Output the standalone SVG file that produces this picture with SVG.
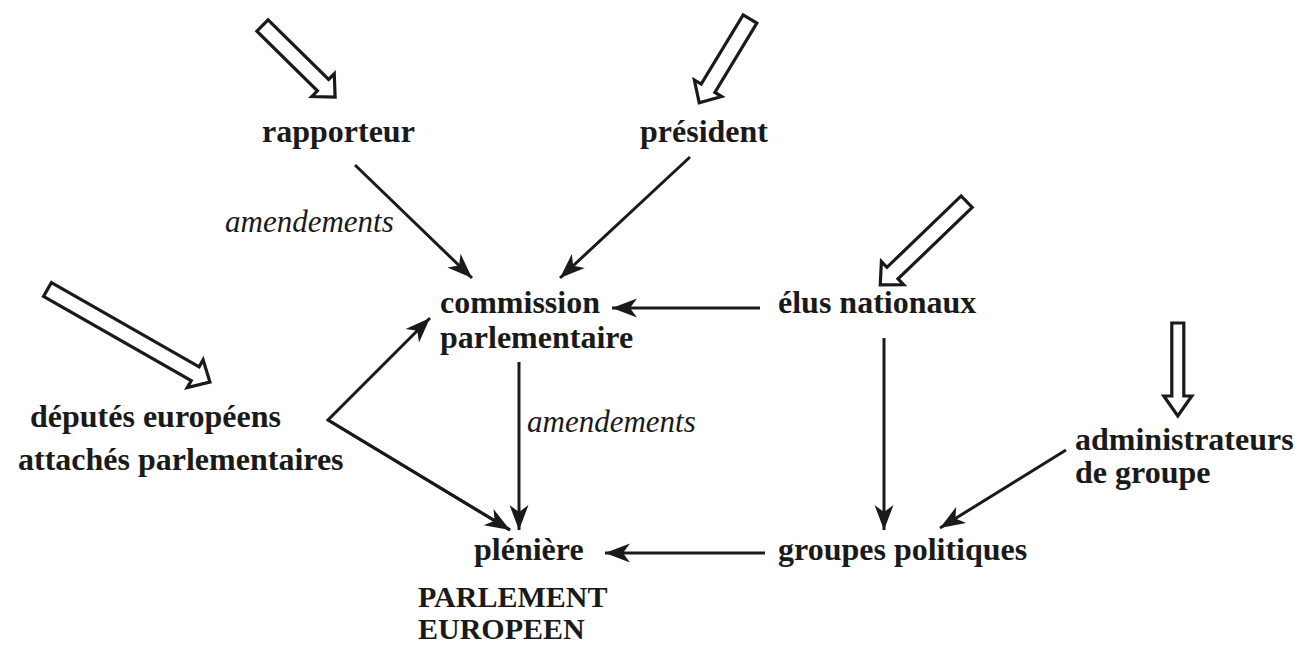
<svg xmlns="http://www.w3.org/2000/svg" width="1300" height="645" viewBox="0 0 1300 645">
<style>
  .t { font-family: "Liberation Serif", "Times New Roman", serif; font-weight: bold; font-size: 32px; fill: #1a1a1a; }
  .p { font-family: "Liberation Serif", "Times New Roman", serif; font-weight: bold; font-size: 30px; fill: #1a1a1a; }
  .i { font-family: "Liberation Serif", "Times New Roman", serif; font-style: italic; font-size: 31px; fill: #1a1a1a; }
  .c { stroke: #1a1a1a; stroke-width: 3; fill: none; marker-end: url(#ah); }
  .h { fill: #ffffff; stroke: #1a1a1a; stroke-width: 3.2; stroke-linejoin: miter; }
</style>
<defs>
  <marker id="ah" markerUnits="userSpaceOnUse" viewBox="-26 -11 28 22" refX="0" refY="0" markerWidth="28" markerHeight="22" orient="auto">
    <path d="M0,0 L-25,-9.5 L-18,0 L-25,9.5 Z" fill="#1a1a1a"/>
  </marker>
</defs>
<rect width="1300" height="645" fill="#ffffff"/>

<g id="input-arrows">
  <polygon class="h" transform="translate(262.5,25.5) rotate(44.6)" points="0,-8 85,-8 85,-16 102,0 85,16 85,8 0,8"/>
  <polygon class="h" transform="translate(750,19) rotate(121.2)" points="0,-8 81,-8 81,-16 98,0 81,16 81,8 0,8"/>
  <polygon class="h" transform="translate(966.7,201.7) rotate(136.1)" points="0,-8 103,-8 103,-16 120,0 103,16 103,8 0,8"/>
  <polygon class="h" transform="translate(47.5,289.5) rotate(29.7)" points="0,-8 170,-8 170,-16 187,0 170,16 170,8 0,8"/>
  <polygon class="h" transform="translate(1177.8,323) rotate(90)" points="0,-6 73,-6 73,-14 93,0 73,14 73,6 0,6"/>
</g>

<g id="connectors">
  <line class="c" x1="355" y1="165" x2="472" y2="278"/>
  <line class="c" x1="690" y1="157" x2="560" y2="278"/>
  <line class="c" x1="760" y1="308" x2="612" y2="308"/>
  <line class="c" x1="884" y1="338" x2="884" y2="530"/>
  <line class="c" x1="519" y1="362" x2="519" y2="530"/>
  <polyline class="c" points="510,530 328,420 430,318"/>
  <line class="c" x1="328" y1="420" x2="510" y2="530"/>
  <line class="c" x1="1066" y1="450" x2="940" y2="528"/>
  <line class="c" x1="765" y1="553" x2="605" y2="553"/>
  <text class="i" x="225" y="232">amendements</text>
  <text class="i" x="527" y="432">amendements</text>
</g>

<g id="rapporteur"><text class="t" x="262" y="142">rapporteur</text></g>
<g id="president"><text class="t" x="640" y="142">président</text></g>
<g id="commission"><text class="t" x="440" y="313">commission</text><text class="t" x="440" y="348">parlementaire</text></g>
<g id="elus"><text class="t" x="778" y="313">élus nationaux</text></g>
<g id="deputes"><text class="t" x="30" y="427">députés européens</text><text class="t" x="18" y="470">attachés parlementaires</text></g>
<g id="administrateurs"><text class="t" x="1075" y="450">administrateurs</text><text class="t" x="1075" y="483">de groupe</text></g>
<g id="pleniere"><text class="t" x="474" y="560">plénière</text></g>
<g id="groupes"><text class="t" x="778" y="560">groupes politiques</text></g>
<g id="parlement"><text class="p" x="418" y="607">PARLEMENT</text><text class="p" x="418" y="639">EUROPEEN</text></g>
</svg>
